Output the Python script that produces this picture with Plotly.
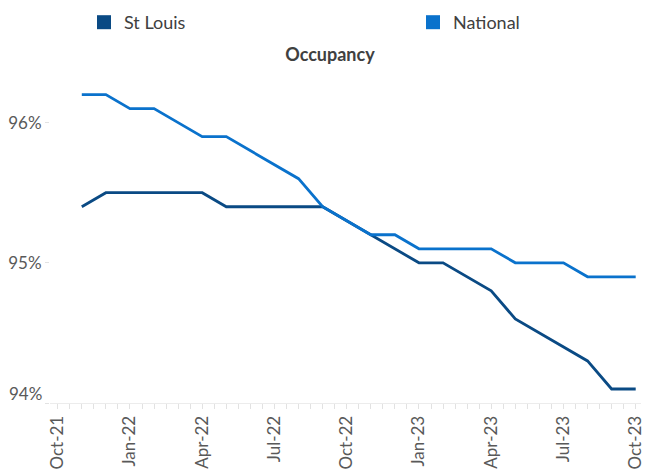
import plotly.graph_objects as go

months = ["Nov-21", "Dec-21", "Jan-22", "Feb-22", "Mar-22", "Apr-22", "May-22", "Jun-22",
          "Jul-22", "Aug-22", "Sep-22", "Oct-22", "Nov-22", "Dec-22", "Jan-23", "Feb-23",
          "Mar-23", "Apr-23", "May-23", "Jun-23", "Jul-23", "Aug-23", "Sep-23", "Oct-23"]
st_louis = [95.4, 95.5, 95.5, 95.5, 95.5, 95.5, 95.4, 95.4, 95.4, 95.4, 95.4, 95.3,
            95.2, 95.1, 95.0, 95.0, 94.9, 94.8, 94.6, 94.5, 94.4, 94.3, 94.1, 94.1]
national = [96.2, 96.2, 96.1, 96.1, 96.0, 95.9, 95.9, 95.8, 95.7, 95.6, 95.4, 95.3,
            95.2, 95.2, 95.1, 95.1, 95.1, 95.1, 95.0, 95.0, 95.0, 94.9, 94.9, 94.9]
tick_labels = ["Oct-21", "Jan-22", "Apr-22", "Jul-22", "Oct-22", "Jan-23", "Apr-23", "Jul-23", "Oct-23"]
y_ticks = [94, 95, 96]

# month index positions (Oct-21 = 0)
x_idx = list(range(1, len(months) + 1))
tick_pos = [3 * i for i in range(len(tick_labels))]

C_STL = "#0a4a84"
C_NAT = "#0a72cc"
FONT = "Lato, 'Open Sans', sans-serif"
GRAY = "#595959"

fig = go.Figure()
fig.add_trace(go.Scatter(x=x_idx, y=st_louis, mode="lines", line=dict(color=C_STL, width=2.8),
                         name="St Louis", showlegend=False, hoverinfo="skip"))
fig.add_trace(go.Scatter(x=x_idx, y=national, mode="lines", line=dict(color=C_NAT, width=2.8),
                         name="National", showlegend=False, hoverinfo="skip"))
# legend entries (square swatches)
fig.add_trace(go.Scatter(x=[None], y=[None], mode="markers", legend="legend",
                         marker=dict(symbol="square", size=14, color=C_STL), name="St Louis"))
fig.add_trace(go.Scatter(x=[None], y=[None], mode="markers", legend="legend2",
                         marker=dict(symbol="square", size=14, color=C_NAT), name="National"))

leg_common = dict(orientation="h", xref="container", yref="container",
                  xanchor="left", y=1 - 4 / 473, yanchor="top",
                  font=dict(family=FONT, size=18, color="#404040"),
                  bgcolor="rgba(0,0,0,0)")

fig.update_layout(
    width=647, height=473,
    margin=dict(l=50, r=2, t=80, b=70),
    paper_bgcolor="white", plot_bgcolor="white",
    font=dict(family=FONT, color=GRAY, size=17),
    title=dict(text="<b>Occupancy</b>", x=0.51, xref="container", xanchor="center",
               y=1 - 55 / 473, yref="container", yanchor="middle",
               font=dict(family=FONT, size=18, color="#404040")),
    legend=dict(x=84 / 647, **leg_common),
    legend2=dict(x=413 / 647, **leg_common),
    showlegend=True,
)

fig.update_xaxes(
    range=[-0.32, 24.22], tickmode="array", tickvals=tick_pos, ticktext=tick_labels,
    tickangle=-90, showgrid=False, zeroline=False,
    showline=True, linecolor="#ececec", linewidth=1,
    ticks="outside", ticklen=5, tickcolor="#e2e2e2",
    minor=dict(dtick=0.5, tick0=0, ticks="outside", ticklen=5, tickcolor="#e2e2e2"),
    tickfont=dict(family=FONT, size=17, color=GRAY),
    ticklabeloverflow="allow",
)
fig.update_yaxes(
    range=[94, 96.304], tickmode="array", tickvals=y_ticks,
    ticktext=["" if v == y_ticks[0] else f"{v}%" for v in y_ticks],
    showgrid=False, zeroline=False, showline=False,
    ticks="outside", ticklen=4, tickcolor="#e2e2e2",
    tickfont=dict(family=FONT, size=17, color=GRAY),
)
fig.add_annotation(text=f"{y_ticks[0]}%", xref="paper", x=0, xanchor="right", xshift=-6,
                   yref="y", y=y_ticks[0], yanchor="middle", yshift=10, showarrow=False,
                   font=dict(family=FONT, size=17, color=GRAY))

fig.write_html("out.html")
